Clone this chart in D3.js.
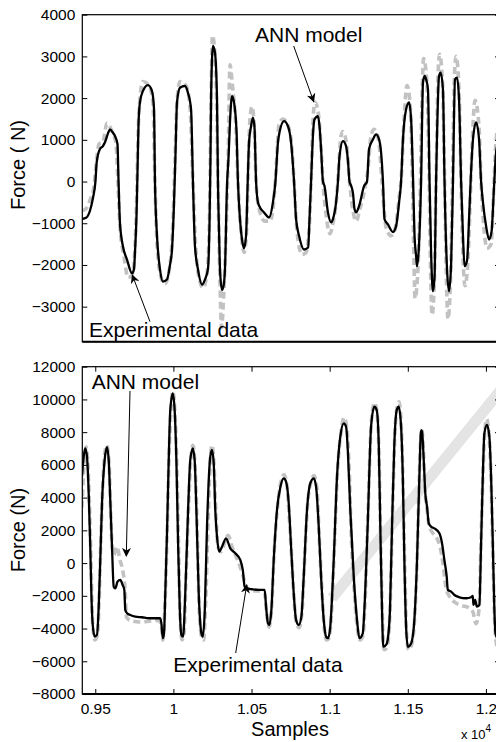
<!DOCTYPE html>
<html>
<head>
<meta charset="utf-8">
<script src="https://cdn.jsdelivr.net/npm/d3@7"></script>
<style>
  html, body { margin: 0; padding: 0; background: #fff; }
  svg { display: block; font-family: "Liberation Sans", Arial, sans-serif; }
</style>
</head>
<body>
<div id="chart"></div>
<script>
// [sample, force (N)]
const topExp = [[9415,-700],[9441,-650],[9466,-450],[9492,-100],[9505,400],[9524,900],[9549,950],[9575,1400],[9607,1200],[9633,900],[9645,0],[9658,-1100],[9684,-1800],[9709,-2300],[9735,-2250],[9751,-1800],[9764,-500],[9773,1000],[9786,2000],[9805,2400],[9844,2300],[9869,1900],[9882,0],[9895,-1500],[9921,-2300],[9946,-2450],[9978,-2000],[9997,-1000],[10010,500],[10023,1900],[10042,2400],[10081,2300],[10106,1800],[10125,0],[10145,-1700],[10170,-2400],[10189,-2550],[10215,-2200],[10231,-800],[10241,2000],[10250,3500],[10263,3200],[10276,2000],[10285,0],[10298,-2400],[10308,-3500],[10321,-2800],[10337,-1200],[10350,500],[10362,2800],[10378,2300],[10401,1200],[10413,0],[10433,-1200],[10452,-1700],[10468,-1200],[10477,0],[10490,1500],[10503,1800],[10519,1200],[10529,0],[10548,-650],[10586,-950],[10618,-950],[10644,-400],[10657,300],[10676,1370],[10701,1500],[10733,1350],[10756,900],[10772,0],[10791,-1200],[10823,-1750],[10849,-1700],[10871,-1000],[10881,0],[10894,1500],[10906,1900],[10929,1600],[10945,800],[10957,0],[10977,-800],[11002,-1250],[11021,-1000],[11044,-400],[11057,300],[11073,1100],[11085,1200],[11108,900],[11127,0],[11149,-700],[11169,-950],[11194,-650],[11226,-150],[11245,300],[11265,1100],[11284,1250],[11313,1000],[11335,0],[11361,-1100],[11393,-1300],[11418,-1150],[11444,-400],[11460,200],[11476,1500],[11495,2300],[11514,1900],[11530,0],[11540,-2000],[11546,-2800],[11562,-2300],[11578,-500],[11591,2000],[11601,2950],[11620,2500],[11636,200],[11645,-2000],[11655,-3200],[11668,-2600],[11681,0],[11693,2500],[11703,3050],[11722,2400],[11735,200],[11748,-2500],[11757,-3300],[11773,-2400],[11786,0],[11799,2600],[11809,3000],[11828,2200],[11841,0],[11853,-1800],[11866,-2500],[11885,-1900],[11898,-600],[11911,800],[11930,1950],[11956,1300],[11969,0],[11981,-800],[12007,-1600],[12033,-1500],[12052,0],[12065,1000],[12084,1400]];

const topModel = [[9415,-900],[9441,-870],[9466,-700],[9485,-400],[9501,0],[9509,460],[9530,780],[9549,850],[9562,940],[9581,1150],[9594,1250],[9613,1170],[9626,1090],[9642,900],[9649,0],[9658,-1000],[9677,-1550],[9703,-1870],[9735,-2200],[9748,-2100],[9754,-1700],[9764,-800],[9770,200],[9777,1420],[9786,1900],[9805,2170],[9837,2310],[9863,2170],[9876,1730],[9882,0],[9895,-1300],[9914,-2100],[9933,-2400],[9959,-2350],[9978,-2000],[9991,-1630],[10004,-500],[10013,600],[10023,1900],[10042,2250],[10074,2290],[10093,2130],[10113,1730],[10125,0],[10138,-1550],[10157,-2100],[10183,-2470],[10202,-2350],[10221,-2100],[10231,-1000],[10237,500],[10241,1970],[10247,2930],[10253,3250],[10266,3090],[10279,1970],[10285,0],[10292,-1200],[10298,-2100],[10311,-2600],[10321,-2500],[10330,-2100],[10343,-100],[10353,600],[10362,1420],[10375,2050],[10388,1900],[10404,1200],[10413,0],[10426,-900],[10439,-1390],[10452,-1600],[10465,-1300],[10474,-200],[10484,940],[10497,1330],[10509,1530],[10519,1300],[10529,0],[10541,-500],[10554,-620],[10580,-740],[10612,-860],[10637,-500],[10653,0],[10669,940],[10679,1180],[10708,1450],[10733,1330],[10753,940],[10772,0],[10785,-900],[10804,-1300],[10836,-1630],[10862,-1580],[10871,-900],[10881,0],[10894,1180],[10903,1490],[10925,1570],[10935,1330],[10945,780],[10957,0],[10967,-110],[10989,-740],[11009,-980],[11021,-900],[11041,-500],[11053,0],[11063,610],[11085,970],[11105,850],[11117,500],[11127,0],[11137,-100],[11149,-270],[11159,-660],[11169,-740],[11188,-590],[11220,-110],[11239,0],[11252,780],[11277,1010],[11297,1130],[11316,1010],[11329,700],[11341,0],[11351,-900],[11373,-1030],[11405,-1210],[11425,-1070],[11444,-500],[11457,0],[11469,1010],[11489,1730],[11508,1900],[11521,1500],[11534,0],[11543,-1300],[11553,-1780],[11559,-2030],[11572,-1500],[11585,0],[11597,2370],[11607,2530],[11617,2450],[11629,2210],[11639,0],[11649,-1700],[11661,-2630],[11671,-2300],[11681,0],[11700,2530],[11710,2610],[11725,2200],[11735,0],[11751,-2100],[11764,-2630],[11777,-2000],[11789,0],[11802,2450],[11815,2490],[11828,1970],[11841,0],[11853,-1300],[11863,-2030],[11879,-1900],[11892,-900],[11902,0],[11917,1010],[11937,1420],[11956,1010],[11969,0],[11981,-500],[12001,-1070],[12020,-1390],[12036,-1200],[12052,-110],[12065,700],[12084,1000]];

const botExp = [[9415,3400],[9428,6000],[9441,7100],[9453,6000],[9463,3500],[9473,0],[9482,-3500],[9498,-4700],[9514,-4400],[9524,-2500],[9533,500],[9549,5000],[9572,7200],[9588,6200],[9597,3600],[9607,1200],[9620,500],[9639,1000],[9658,200],[9677,-500],[9690,-1500],[9700,-3300],[9722,-3500],[9786,-3600],[9850,-3550],[9901,-3500],[9921,-3700],[9933,-4700],[9946,-2500],[9959,1500],[9972,6500],[9985,9500],[9996,10500],[10010,9200],[10023,5500],[10033,1000],[10042,-3000],[10055,-4700],[10068,-4300],[10081,-800],[10097,3500],[10113,6500],[10125,7200],[10138,6000],[10151,2500],[10164,-2500],[10180,-4500],[10193,-4700],[10206,-2500],[10222,2500],[10238,6600],[10247,7200],[10260,6000],[10273,2800],[10285,1000],[10305,700],[10330,1300],[10350,1700],[10375,1000],[10401,400],[10426,-200],[10446,-800],[10465,-1400],[10490,-1700],[10541,-1700],[10583,-1800],[10596,-3000],[10612,-3900],[10628,-2800],[10644,500],[10667,3500],[10689,5000],[10708,5400],[10727,4700],[10740,3000],[10756,500],[10772,-2200],[10788,-3700],[10804,-3950],[10823,-3000],[10836,-500],[10858,3500],[10881,5000],[10900,5350],[10919,4500],[10932,1800],[10948,-1200],[10964,-3800],[10980,-4700],[10996,-4600],[11009,-3500],[11028,500],[11050,5600],[11073,8000],[11092,8900],[11111,8200],[11124,6000],[11137,2000],[11156,-1500],[11175,-3800],[11194,-4700],[11214,-4400],[11226,-2500],[11245,3000],[11268,8800],[11287,9800],[11303,9200],[11316,6500],[11325,2000],[11338,-3500],[11348,-5300],[11364,-5200],[11380,-4200],[11389,-2000],[11402,3000],[11418,8000],[11431,9500],[11444,9850],[11460,8000],[11469,5000],[11479,500],[11492,-4300],[11505,-5300],[11524,-5000],[11543,-3500],[11559,0],[11575,5800],[11588,8200],[11597,7500],[11610,4500],[11623,3300],[11636,2300],[11655,1900],[11687,1500],[11706,1000],[11725,0],[11744,-1500],[11764,-2000],[11802,-2400],[11847,-2600],[11885,-2700],[11917,-3000],[11936,-3700],[11956,-2800],[11969,1500],[11981,5500],[11994,8200],[12004,8800],[12020,7800],[12033,5000],[12044,800],[12055,-3300],[12065,-4800],[12084,-5500]];

const botModel = [[9415,5280],[9426,6500],[9436,7010],[9447,6500],[9458,4260],[9468,1000],[9475,-1840],[9483,-3680],[9496,-4490],[9511,-4390],[9522,-2660],[9532,190],[9543,3650],[9560,6300],[9575,7080],[9586,6300],[9596,3860],[9607,1000],[9618,-1440],[9628,-1540],[9643,-1130],[9660,-1030],[9675,-1340],[9686,-1640],[9692,-2860],[9703,-3060],[9724,-3170],[9756,-3270],[9799,-3310],[9842,-3370],[9884,-3370],[9916,-3370],[9923,-3680],[9932,-4590],[9940,-4290],[9948,-1840],[9959,1820],[9970,6300],[9980,9350],[9996,10370],[10008,9350],[10019,6300],[10030,1210],[10041,-2860],[10051,-4390],[10062,-4500],[10076,-1840],[10094,3250],[10108,6300],[10124,7010],[10136,6300],[10147,3250],[10162,-1840],[10179,-4290],[10188,-4500],[10201,-2860],[10215,2230],[10236,6500],[10247,6910],[10258,6100],[10268,3250],[10279,1610],[10294,700],[10311,1000],[10337,1510],[10364,900],[10396,600],[10428,190],[10444,-420],[10456,-1440],[10471,-1550],[10503,-1600],[10546,-1640],[10584,-1640],[10593,-2660],[10605,-3680],[10614,-3780],[10627,-2860],[10642,190],[10663,3250],[10685,4670],[10706,5180],[10721,4970],[10738,3650],[10753,1000],[10770,-1840],[10785,-3470],[10802,-3780],[10819,-3270],[10834,-830],[10855,3250],[10876,4870],[10898,5180],[10913,4670],[10930,2230],[10945,-830],[10962,-3470],[10977,-4500],[10990,-4590],[11004,-3880],[11026,190],[11047,5280],[11068,7720],[11090,8540],[11105,8340],[11117,6710],[11132,3250],[11154,-830],[11175,-3470],[11190,-4590],[11212,-4290],[11222,-2860],[11243,2230],[11265,8340],[11286,9560],[11301,9350],[11314,7320],[11324,2230],[11335,-2860],[11343,-5110],[11361,-5000],[11371,-4700],[11386,-2860],[11399,2230],[11414,7320],[11429,9350],[11442,9560],[11457,8340],[11468,5280],[11478,190],[11489,-3880],[11500,-5110],[11521,-4910],[11542,-3470],[11559,190],[11574,5280],[11585,8130],[11591,8030],[11602,6300],[11612,4260],[11623,3450],[11634,2430],[11649,2230],[11670,2120],[11702,1820],[11719,1210],[11734,190],[11749,-830],[11756,-1640],[11777,-1740],[11798,-1950],[11830,-2090],[11873,-2150],[11905,-2090],[11916,-2010],[11920,-2560],[11931,-2250],[11942,-2660],[11958,-2560],[11969,1210],[11980,5280],[11990,7930],[12007,8440],[12022,7720],[12033,5280],[12044,1210],[12054,-2860],[12061,-4290],[12078,-4700]];

const topTicks = [-3000, -2000, -1000, 0, 1000, 2000, 3000, 4000];
const botTicks = [-8000, -6000, -4000, -2000, 0, 2000, 4000, 6000, 8000, 10000, 12000];
const sampleTicks = [9500, 10000, 10500, 11000, 11500, 12000];

const W = 496, H = 742;
const plotLeft = 82.3, plotRight = 500;

const svg = d3.select("#chart").append("svg")
    .attr("width", W)
    .attr("height", H)
    .style("overflow", "hidden");

// faint diagonal stroke of the publisher watermark
svg.append("line")
    .attr("x1", 332).attr("y1", 598).attr("x2", 505).attr("y2", 385)
    .attr("stroke", "#e4e4e4").attr("stroke-width", 11)

const x = d3.scaleLinear().domain([9417, 12090]).range([plotLeft, plotRight]);
const fmt = d3.format("d");

const panels = [
    {id: "top", top: 14.7, bottom: 341.7, domain: [-3840, 4000], ticks: topTicks,
     exp: topExp, model: topModel, label: "Force ( N)", labelY: 165, xticks: false},
    {id: "bot", top: 366.7, bottom: 694, domain: [-8000, 12000], ticks: botTicks,
     exp: botExp, model: botModel, label: "Force (N)", labelY: 530, xticks: true}
];

svg.append("defs").selectAll("clipPath")
    .data(panels)
    .enter().append("clipPath")
    .attr("id", p => "clip-" + p.id)
    .append("rect")
    .attr("x", plotLeft)
    .attr("y", p => p.top)
    .attr("width", plotRight - plotLeft)
    .attr("height", p => p.bottom - p.top);

svg.select("defs").append("marker")
    .attr("id", "arrow")
    .attr("viewBox", "0 0 10 10")
    .attr("refX", 9).attr("refY", 5)
    .attr("markerWidth", 9).attr("markerHeight", 9)
    .attr("markerUnits", "userSpaceOnUse")
    .attr("orient", "auto")
    .append("path")
    .attr("d", "M0,0 L10,5 L0,10 L3,5 z")
    .attr("fill", "#000");

for (let p of panels) {
    let y = d3.scaleLinear().domain(p.domain).range([p.bottom, p.top]);
    let line = d3.line()
        .x(d => x(d[0]))
        .y(d => y(d[1]))
        .curve(d3.curveMonotoneX);

    let g = svg.append("g").attr("clip-path", "url(#clip-" + p.id + ")");

    // experimental data: grey dashed
    g.append("path")
        .datum(p.exp)
        .attr("d", line)
        .attr("fill", "none")
        .attr("stroke", "#c2c2c2")
        .attr("stroke-width", 3.6)
        .attr("stroke-dasharray", "7,4");

    // ANN model: black solid
    g.append("path")
        .datum(p.model)
        .attr("d", line)
        .attr("fill", "none")
        .attr("stroke", "#000")
        .attr("stroke-width", 2.3)
        .attr("stroke-linejoin", "round");

    // left axis with labels, ticks pointing inward
    let ax = svg.append("g")
        .attr("transform", "translate(" + plotLeft + ",0)")
        .call(d3.axisLeft(y).tickValues(p.ticks).tickSize(-5).tickPadding(7).tickFormat(fmt));
    ax.select(".domain").remove();
    ax.selectAll("text").style("font-size", "15.5px").style("font-family", "Liberation Sans").attr("fill", "#000");

    let axr = svg.append("g")
        .attr("transform", "translate(" + plotRight + ",0)")
        .call(d3.axisRight(y).tickValues(p.ticks).tickSize(-5).tickFormat(""));
    axr.select(".domain").remove();

    if (p.xticks) {
        let axb = svg.append("g")
            .attr("transform", "translate(0," + p.bottom + ")")
            .call(d3.axisBottom(x).tickValues(sampleTicks).tickSize(-5).tickPadding(9)
                .tickFormat(d => String(+(d / 1e4).toFixed(2))));
        axb.select(".domain").remove();
        axb.selectAll("text").style("font-size", "15.5px").style("font-family", "Liberation Sans").attr("fill", "#000");

        let axt = svg.append("g")
            .attr("transform", "translate(0," + p.top + ")")
            .call(d3.axisTop(x).tickValues(sampleTicks).tickSize(-5).tickFormat(""));
        axt.select(".domain").remove();
    }

    // box
    svg.append("rect")
        .attr("x", plotLeft).attr("y", p.top)
        .attr("width", plotRight - plotLeft).attr("height", p.bottom - p.top)
        .attr("fill", "none").attr("stroke", "#000").attr("stroke-width", 1.2);
    svg.append("line")
        .attr("x1", plotLeft).attr("x2", plotRight)
        .attr("y1", p.bottom).attr("y2", p.bottom)
        .attr("stroke", "#000").attr("stroke-width", 2);

    svg.append("text")
        .attr("transform", "translate(25," + p.labelY + ") rotate(-90)")
        .attr("text-anchor", "middle")
        .style("font-size", "20px")
        .text(p.label);
}

// x label and exponent
svg.append("text")
    .attr("x", 290).attr("y", 736)
    .attr("text-anchor", "middle")
    .style("font-size", "20px")
    .text("Samples");
let expo = svg.append("text")
    .attr("x", 461).attr("y", 739)
    .style("font-size", "13px")
    .text("x 10");
expo.append("tspan")
    .attr("dy", -7)
    .style("font-size", "10px")
    .text("4");

// annotations
const notes = [
    {text: "ANN model", tx: 255, ty: 41.7, from: [293.7, 46], to: [313.7, 101.7]},
    {text: "Experimental data", tx: 89, ty: 336.7, from: [150, 321.7], to: [132.3, 275]},
    {text: "ANN model", tx: 91.7, ty: 389.3, from: [130, 391], to: [126.3, 556]},
    {text: "Experimental data", tx: 173.3, ty: 671.7, from: [235.7, 653], to: [246.7, 585]}
];

let ann = svg.append("g").selectAll("g")
    .data(notes)
    .enter().append("g");
ann.append("text")
    .attr("x", d => d.tx).attr("y", d => d.ty)
    .style("font-size", "21px")
    .text(d => d.text);
ann.append("line")
    .attr("x1", d => d.from[0]).attr("y1", d => d.from[1])
    .attr("x2", d => d.to[0]).attr("y2", d => d.to[1])
    .attr("stroke", "#000").attr("stroke-width", 1)
    .attr("marker-end", "url(#arrow)");
</script>
</body>
</html>
